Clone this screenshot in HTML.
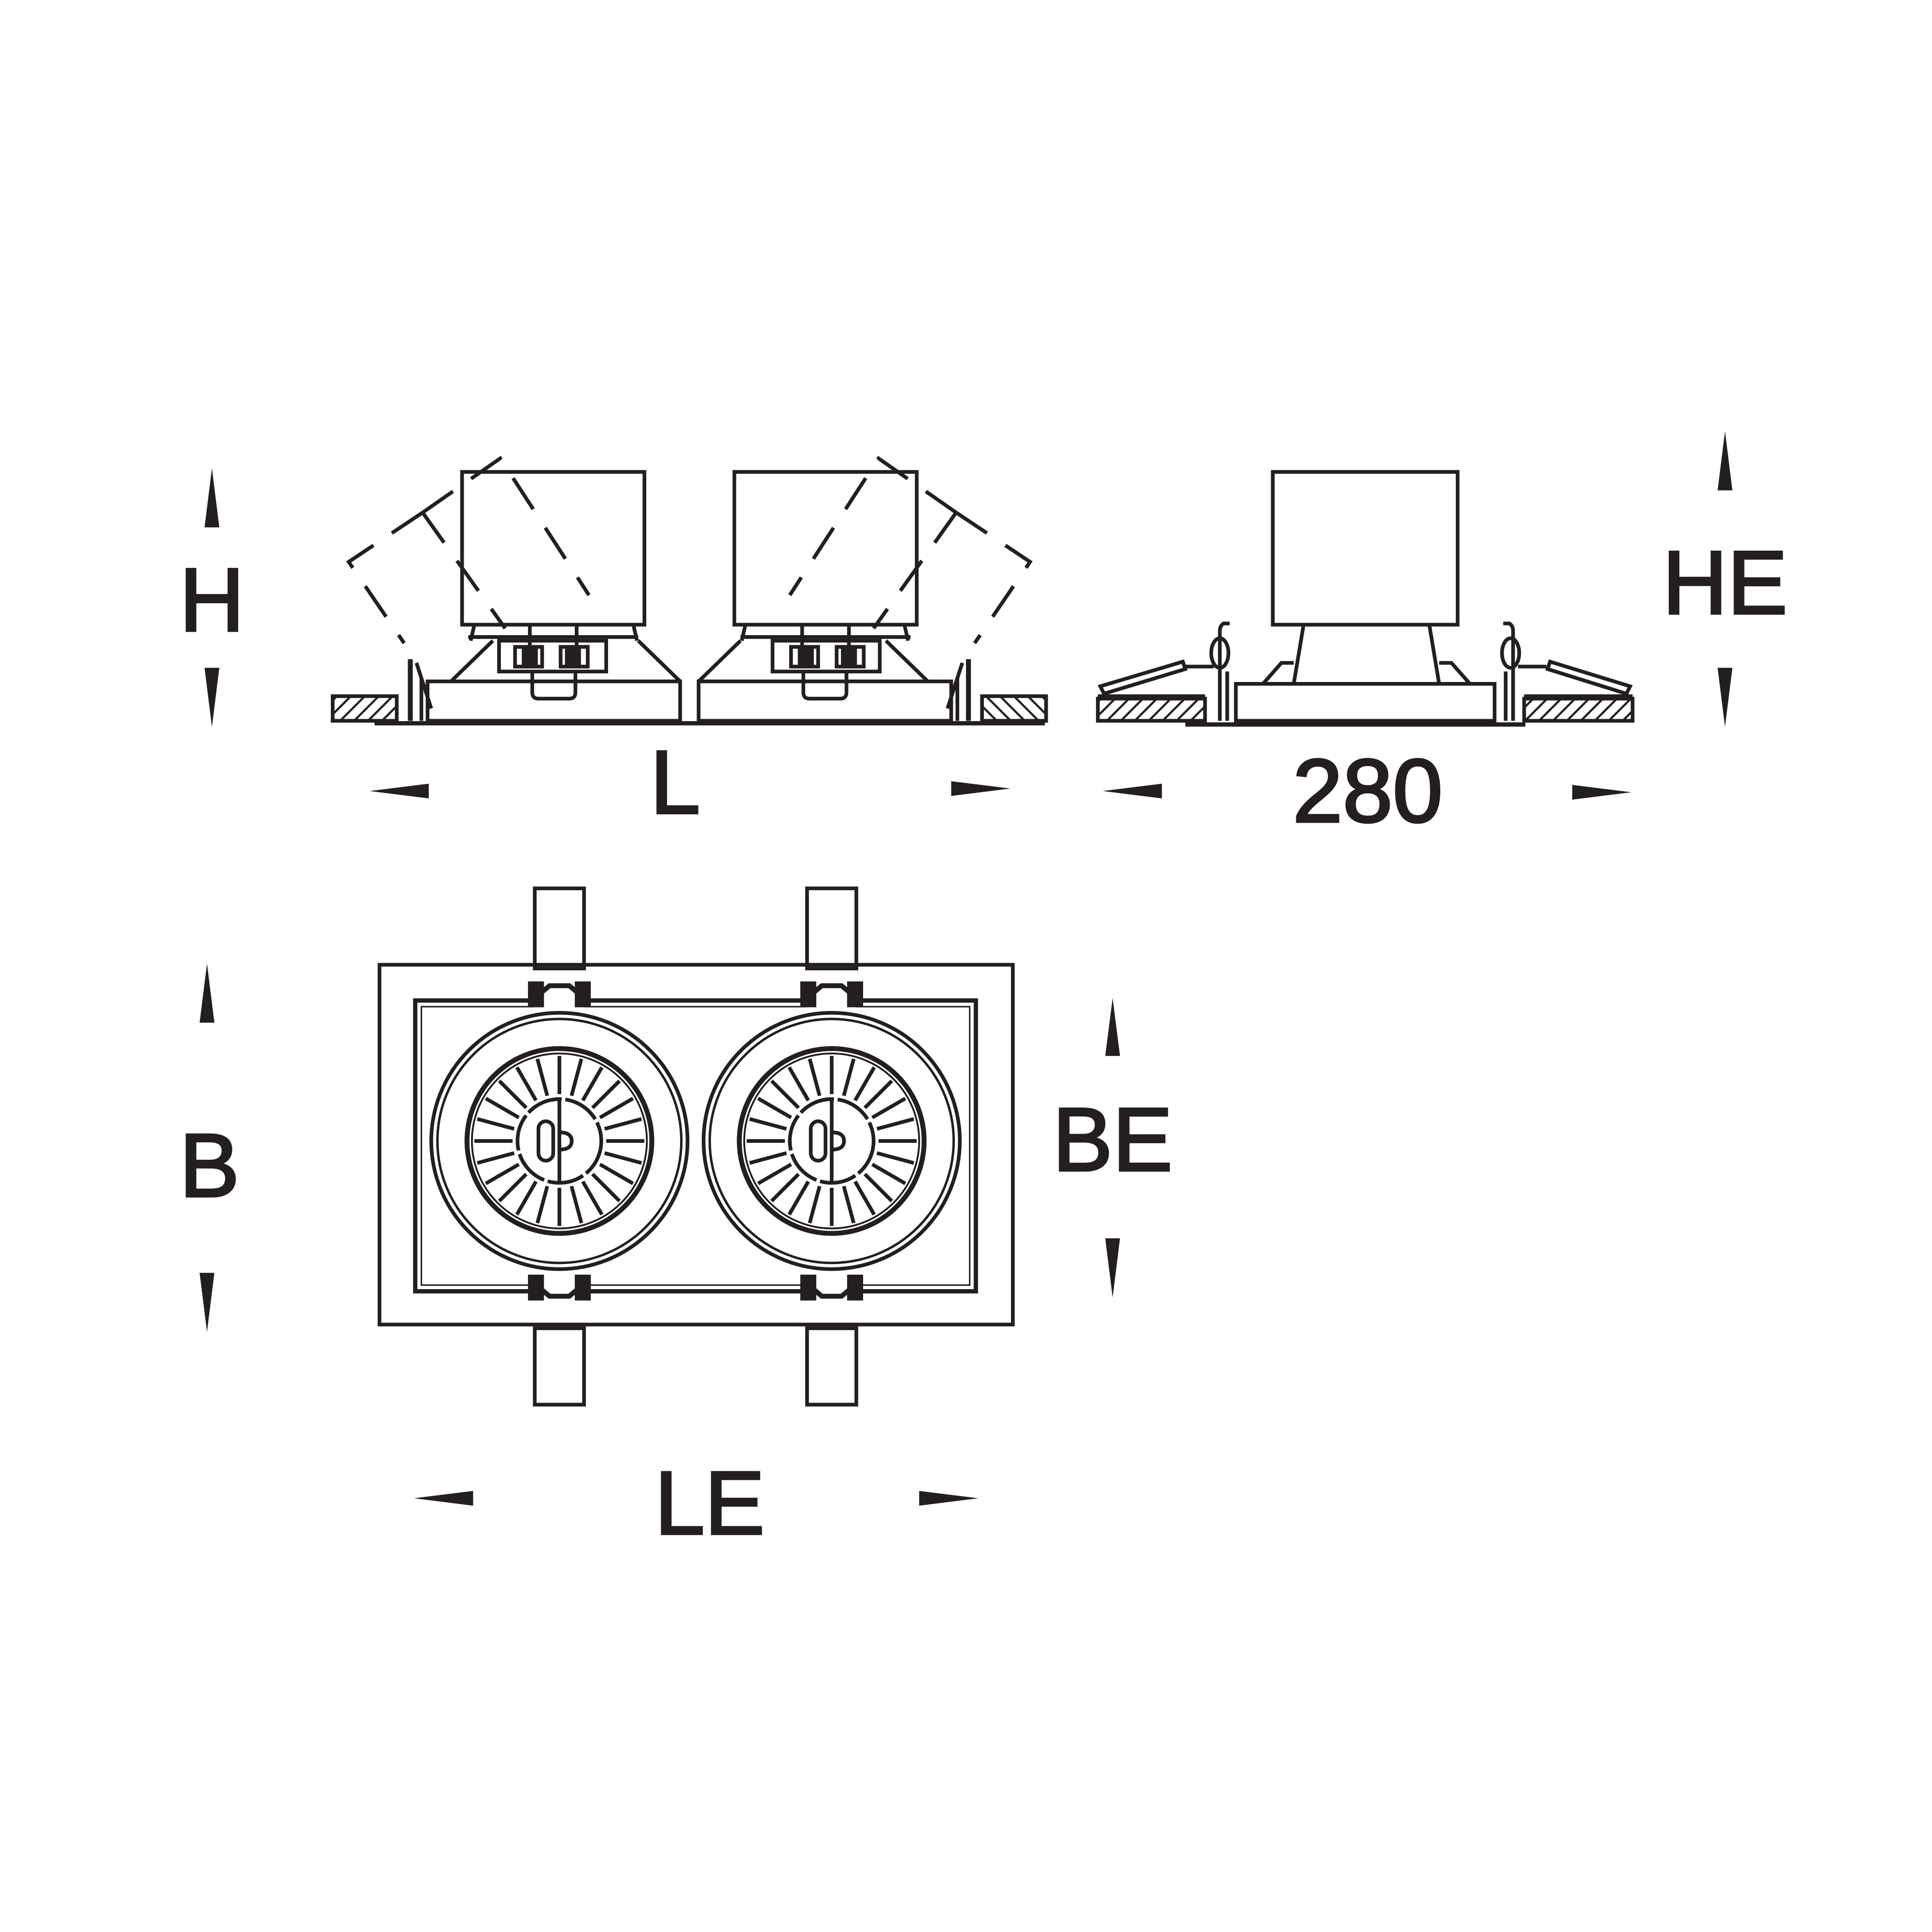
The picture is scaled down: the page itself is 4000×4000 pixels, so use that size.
<!DOCTYPE html>
<html><head><meta charset="utf-8"><style>html,body{margin:0;padding:0;background:#fff}svg{display:block}</style></head>
<body>
<svg width="4000" height="4000" viewBox="0 0 1568 1568" xmlns="http://www.w3.org/2000/svg">
<defs>
<pattern id="h" width="8" height="8" patternUnits="userSpaceOnUse" patternTransform="rotate(45)">
<rect width="8" height="8" fill="#fff"/><line x1="0" y1="0" x2="0" y2="8" stroke="#231f20" stroke-width="3.5"/>
</pattern>
<g id="unit" fill="none" stroke="#231f20" stroke-width="3">
 <rect x="375" y="383" width="148" height="124"/>
 <g stroke-dasharray="30,18">
  <polyline points="343,416 406,372 478,483"/>
  <line x1="343" y1="416" x2="410" y2="510"/>
  <polyline points="343,416 283,456 328,522"/>
 </g>
 <line x1="385" y1="507" x2="382" y2="520"/>
 <line x1="514" y1="507" x2="517" y2="520"/>
 <line x1="380" y1="517" x2="518" y2="517"/>
 <polyline points="366,553 400,520"/>
 <polyline points="552,553 518,520"/>
 <rect x="405" y="520" width="87" height="25"/>
 <rect x="418" y="525" width="22" height="16"/>
 <rect x="455" y="525" width="22" height="16"/>
 <rect x="425" y="527" width="10" height="12" fill="#231f20"/>
 <rect x="460" y="527" width="10" height="12" fill="#231f20"/>
 <line x1="430" y1="508" x2="430" y2="540"/>
 <line x1="468" y1="508" x2="468" y2="540"/>
 <path d="M432,545 L432,562 Q432,567 437,567 L462,567 Q467,567 467,562 L467,545"/>
 <rect x="347" y="553" width="205" height="32"/>
 <line x1="333" y1="535" x2="333" y2="585" stroke-width="4"/>
 <line x1="338" y1="538" x2="350" y2="575"/>
 <line x1="342" y1="550" x2="342" y2="585"/>
 <rect x="270" y="565" width="52" height="20" fill="url(#h)"/>
</g>
<g id="plan" fill="none" stroke="#231f20" stroke-width="3">
 <circle cx="0" cy="0" r="104"/>
 <circle cx="0" cy="0" r="99" stroke-width="2"/>
 <circle cx="0" cy="0" r="75" stroke-width="4"/>
 <circle cx="0" cy="0" r="71" stroke-width="1.5"/>
 <circle cx="0" cy="0" r="34" stroke-dasharray="30,3"/>
 <g id="sp"><line x1="0" y1="-38" x2="0" y2="-69"/></g>
 <use href="#sp" transform="rotate(15)"/><use href="#sp" transform="rotate(30)"/><use href="#sp" transform="rotate(45)"/>
 <use href="#sp" transform="rotate(60)"/><use href="#sp" transform="rotate(75)"/><use href="#sp" transform="rotate(90)"/>
 <use href="#sp" transform="rotate(105)"/><use href="#sp" transform="rotate(120)"/><use href="#sp" transform="rotate(135)"/>
 <use href="#sp" transform="rotate(150)"/><use href="#sp" transform="rotate(165)"/><use href="#sp" transform="rotate(180)"/>
 <use href="#sp" transform="rotate(195)"/><use href="#sp" transform="rotate(210)"/><use href="#sp" transform="rotate(225)"/>
 <use href="#sp" transform="rotate(240)"/><use href="#sp" transform="rotate(255)"/><use href="#sp" transform="rotate(270)"/>
 <use href="#sp" transform="rotate(285)"/><use href="#sp" transform="rotate(300)"/><use href="#sp" transform="rotate(315)"/>
 <use href="#sp" transform="rotate(330)"/><use href="#sp" transform="rotate(345)"/>
 <line x1="0" y1="-34" x2="0" y2="34"/>
 <rect x="-17" y="-16" width="12" height="32" rx="6"/>
 <path d="M0,-7 Q10,-7 10,0 Q10,7 0,7"/>
 <rect x="-20" y="-205" width="40" height="65"/>
 <rect x="-20" y="152" width="40" height="62"/>
 <rect x="-24" y="-128" width="10" height="18" fill="#231f20"/>
 <rect x="14" y="-128" width="10" height="18" fill="#231f20"/>
 <rect x="-24" y="110" width="10" height="18" fill="#231f20"/>
 <rect x="14" y="110" width="10" height="18" fill="#231f20"/>
 <path d="M-14,-121 L-8,-126 L8,-126 L14,-121" stroke-width="4"/>
 <path d="M-14,121 L-8,126 L8,126 L14,121" stroke-width="4"/>
</g>
</defs>

<use href="#unit"/>
<use href="#unit" transform="translate(1119,0) scale(-1,1)"/>
<line x1="304" y1="587" x2="848" y2="587" stroke="#231f20" stroke-width="3.5"/>

<g fill="none" stroke="#231f20" stroke-width="3">
 <rect x="1033" y="383" width="150" height="124"/>
 <line x1="1058" y1="507" x2="1050" y2="555"/>
 <line x1="1160" y1="507" x2="1168" y2="555"/>
 <polyline points="1025,555 1040,538 1050,538"/>
 <polyline points="1193,555 1178,538 1168,538"/>
 <rect x="1003" y="555" width="210" height="30"/>
 <line x1="962" y1="588" x2="1238" y2="588" stroke-width="3.5"/>
 <rect x="891" y="567" width="87" height="18" fill="url(#h)"/>
 <rect x="1237" y="567" width="88" height="18" fill="url(#h)"/>
 <line x1="891" y1="565" x2="978" y2="565"/>
 <line x1="1237" y1="565" x2="1325" y2="565"/>
 <polygon points="893,557 960,537 962,543 896,563"/>
 <polygon points="1323,557 1258,537 1256,543 1320,563"/>
 <line x1="962" y1="541" x2="985" y2="541"/>
 <line x1="1232" y1="541" x2="1255" y2="541"/>
 <path d="M998,506 L993,506 Q990,508 990,512 L990,585"/>
 <ellipse cx="990" cy="530" rx="7" ry="12"/>
 <path d="M1220,506 L1225,506 Q1228,508 1228,512 L1228,585"/>
 <ellipse cx="1226" cy="530" rx="7" ry="12"/>
 <line x1="996" y1="545" x2="996" y2="585"/>
 <line x1="1222" y1="545" x2="1222" y2="585"/>
</g>

<g fill="none" stroke="#231f20" stroke-width="3">
 <rect x="308" y="783" width="514" height="292"/>
 <rect x="337" y="812" width="455" height="236" stroke-width="3.5"/>
 <rect x="342" y="817" width="445" height="226" stroke-width="1.2"/>
</g>
<g fill="#fff"><rect x="434" y="800" width="40" height="20"/><rect x="434" y="1037" width="40" height="20"/><rect x="655" y="800" width="40" height="20"/><rect x="655" y="1037" width="40" height="20"/></g>
<use href="#plan" transform="translate(454,926)"/>
<use href="#plan" transform="translate(675,926)"/>

<g fill="#231f20">
 <polygon points="172,380 166,428 178,428"/><polygon points="172,590 166,542 178,542"/>
 <polygon points="1400,350 1394,398 1406,398"/><polygon points="1400,590 1394,542 1406,542"/>
 <polygon points="168,782 162,830 174,830"/><polygon points="168,1081 162,1033 174,1033"/>
 <polygon points="903,810 897,857 909,857"/><polygon points="903,1053 897,1005 909,1005"/>
 <polygon points="300,642 348,636 348,648"/><polygon points="820,640 772,634 772,646"/>
 <polygon points="895,642 943,636 943,648"/><polygon points="1324,643 1276,637 1276,649"/>
 <polygon points="336,1216 384,1210 384,1222"/><polygon points="794,1216 746,1210 746,1222"/>
</g>
<g font-family="Liberation Sans, sans-serif" font-size="73" fill="#231f20" stroke="#231f20" stroke-width="1.8" text-anchor="middle">
 <text x="172" y="512">H</text>
 <text x="548" y="660">L</text>
 <text x="1110" y="667">280</text>
 <text x="1400" y="498">HE</text>
 <text x="170" y="971">B</text>
 <text x="903" y="950">BE</text>
 <text x="576" y="1245">LE</text>
</g>
</svg>
</body></html>
